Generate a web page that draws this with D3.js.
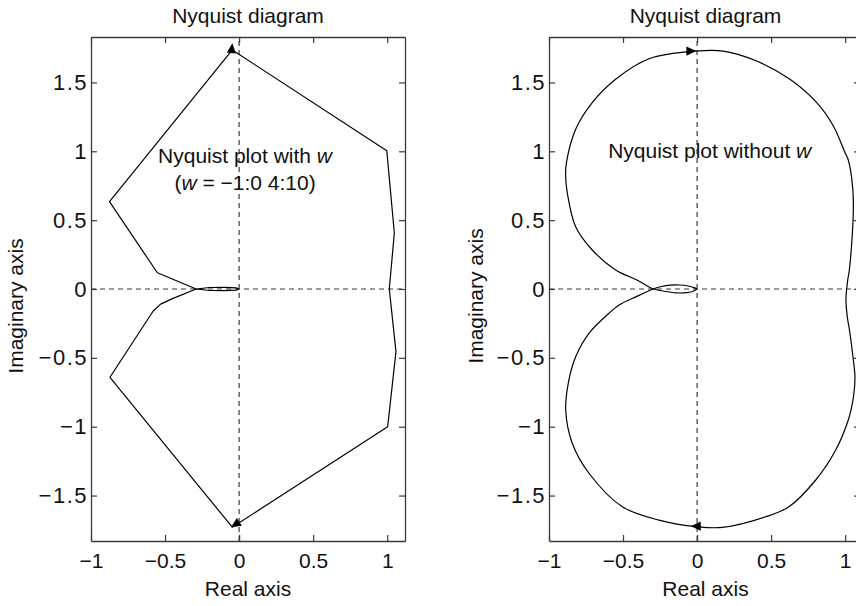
<!DOCTYPE html>
<html>
<head>
<meta charset="utf-8">
<script src="https://cdn.jsdelivr.net/npm/d3@7"></script>
<style>
  body { margin: 0; background: #fff; }
  svg { display: block; }
  text { font-family: "Liberation Sans", Arial, Helvetica, sans-serif; fill: #111; }
</style>
</head>
<body>
<svg id="chart" width="856" height="606"></svg>
<script>
// ---------- data ----------
const titles = ["Nyquist diagram", "Nyquist diagram"];
const xLabel = "Real axis";
const yLabel = "Imaginary axis";
const xTicks = [-1, -0.5, 0, 0.5, 1];
const yTicks = [-1.5, -1, -0.5, 0, 0.5, 1, 1.5];
const xDomainLeft = [-1, 1.12];
const xDomainRight = [-1, 1.1];
const yDomain = [-1.83, 1.83];

// Left panel: Nyquist plot with w (w = -1:0 4:10), straight segments
const leftNegRe = [0, -0.02, -0.1, -0.2, -0.29, -0.552, -0.875, -0.046, 0.997, 1.048, 1.014];
const leftNegIm = [0, -0.008, -0.012, -0.011, 0, 0.118, 0.634, 1.736, 1.004, 0.407, 0];
const leftPosRe = [1.014, 1.059, 1.003, -0.046, -0.872, -0.58, -0.53, -0.45, -0.29, -0.2, -0.1, -0.02, 0];
const leftPosIm = [0, -0.455, -1.0, -1.73, -0.641, -0.16, -0.11, -0.07, 0, 0.011, 0.012, 0.008, 0];

// Right panel: Nyquist plot without w, smooth curve
const rightNegRe = [0, -0.03, -0.09, -0.14, -0.21, -0.296, -0.4, -0.55, -0.708, -0.82, -0.876, -0.888, -0.882, -0.82, -0.708, -0.55, -0.325, -0.01, 0.177, 0.402, 0.627, 0.808, 0.92, 0.999, 1.021, 1.05, 1.055, 1.044, 1.028, 1.017, 1.01];
const rightNegIm = [0, -0.018, -0.028, -0.028, -0.018, 0, 0.062, 0.138, 0.283, 0.452, 0.695, 0.83, 0.92, 1.16, 1.353, 1.523, 1.672, 1.728, 1.728, 1.656, 1.523, 1.353, 1.184, 0.99, 0.937, 0.743, 0.574, 0.332, 0.138, 0.065, 0];
const rightPosRe = [1.01, 1.005, 1.014, 1.032, 1.055, 1.066, 1.059, 1.044, 1.021, 0.936, 0.801, 0.62, 0.463, 0.17, 0, -0.257, -0.505, -0.73, -0.843, -0.887, -0.87, -0.82, -0.73, -0.595, -0.527, -0.4, -0.296, -0.24, -0.18, -0.12, -0.06, -0.02, 0];
const rightPosIm = [0, -0.08, -0.2, -0.32, -0.516, -0.637, -0.757, -0.855, -0.951, -1.169, -1.387, -1.581, -1.654, -1.731, -1.726, -1.678, -1.581, -1.338, -1.12, -0.88, -0.685, -0.492, -0.322, -0.176, -0.116, -0.05, 0, 0.018, 0.028, 0.029, 0.022, 0.01, 0];

// direction arrows: tip position (Re, Im) and heading (degrees, screen)
const leftArrowRe = [-0.046, -0.055];
const leftArrowIm = [1.785, -1.73];
const leftArrowDir = [-85, 147];
const rightArrowRe = [-0.005, -0.043];
const rightArrowIm = [1.728, -1.722];
const rightArrowDir = [0, 180];

const annoLeft = ["Nyquist plot with ", "w", "(", "w", " = \u22121:0 4:10)"];
const annoRight = ["Nyquist plot without ", "w"];

// ---------- drawing ----------
const svg = d3.select("#chart");
svg.append("rect").attr("width", 856).attr("height", 606).attr("fill", "#fff");

const FS = 21;
const fmt = d => (d < 0 ? "\u2212" : "") + Math.abs(d);

function panel(cfg) {
  const x = d3.scaleLinear().domain(cfg.xDomain).range([cfg.left, cfg.right]);
  const y = d3.scaleLinear().domain(yDomain).range([cfg.bottom, cfg.top]);
  const g = svg.append("g");

  // zero lines
  g.append("line")
    .attr("x1", x(cfg.xDomain[0])).attr("x2", x(cfg.xDomain[1]))
    .attr("y1", y(0)).attr("y2", y(0))
    .attr("stroke", "#3a3a3a").attr("stroke-width", 1.2).attr("stroke-dasharray", "5,4");
  g.append("line")
    .attr("x1", x(0)).attr("x2", x(0))
    .attr("y1", y(yDomain[0])).attr("y2", y(yDomain[1]))
    .attr("stroke", "#3a3a3a").attr("stroke-width", 1.2).attr("stroke-dasharray", "5,4");

  const line = d3.line().x(d => x(d[0])).y(d => y(d[1])).curve(cfg.curve);
  cfg.series.forEach(s => {
    g.append("path").datum(d3.zip(s[0], s[1]))
      .attr("d", line).attr("fill", "none")
      .attr("stroke", "#000").attr("stroke-width", 1.2).attr("stroke-linejoin", "round");
  });

  // arrows
  cfg.arrows[0].forEach((re, i) => {
    const im = cfg.arrows[1][i], ang = cfg.arrows[2][i];
    g.append("path")
      .attr("d", "M0,0 L-10,-4.6 L-10,4.6 Z")
      .attr("fill", "#000")
      .attr("transform", `translate(${x(re)},${y(im)}) rotate(${ang})`);
  });

  // axes (ticks inside on all four sides)
  const styleAxis = sel => {
    sel.select(".domain").attr("stroke", "#3a3a3a").attr("stroke-width", 1.3);
    sel.selectAll(".tick line").attr("stroke", "#3a3a3a").attr("stroke-width", 1.2);
    sel.selectAll(".tick text").attr("font-size", FS).attr("fill", "#111")
      .attr("font-family", '"Liberation Sans", Arial, Helvetica, sans-serif');
  };
  g.append("g").attr("transform", `translate(0,${cfg.bottom})`)
    .call(d3.axisBottom(x).tickValues(xTicks).tickFormat(fmt).tickSize(-6).tickSizeOuter(0).tickPadding(12))
    .call(styleAxis);
  g.append("g").attr("transform", `translate(0,${cfg.top})`)
    .call(d3.axisTop(x).tickValues(xTicks).tickFormat("").tickSize(-6).tickSizeOuter(0))
    .call(styleAxis);
  g.append("g").attr("transform", `translate(${cfg.left},0)`)
    .call(d3.axisLeft(y).tickValues(yTicks).tickFormat(fmt).tickSize(-6).tickSizeOuter(0).tickPadding(3))
    .call(styleAxis)
    .call(sel => sel.selectAll(".tick text").attr("font-size", 22).attr("letter-spacing", 1.5));
  g.append("g").attr("transform", `translate(${cfg.right},0)`)
    .call(d3.axisRight(y).tickValues(yTicks).tickFormat("").tickSize(-6).tickSizeOuter(0))
    .call(styleAxis);

  // titles and labels
  const cx = (cfg.left + cfg.right) / 2;
  g.append("text").attr("x", cfg.titleX).attr("y", 23).attr("text-anchor", "middle")
    .attr("font-size", FS).text(cfg.title);
  g.append("text").attr("x", cfg.titleX).attr("y", 596).attr("text-anchor", "middle")
    .attr("font-size", FS).text(xLabel);
  g.append("text").attr("transform", `translate(${cfg.ylabX},${cfg.ylabY}) rotate(-90)`)
    .attr("text-anchor", "middle").attr("font-size", FS).text(yLabel);

  // annotation
  cfg.anno.forEach(a => {
    const t = g.append("text").attr("x", x(a.re)).attr("y", y(a.im))
      .attr("text-anchor", "middle").attr("font-size", FS);
    a.parts.forEach((p, i) => {
      t.append("tspan").text(p).attr("font-style", a.italic.includes(i) ? "italic" : "normal");
    });
  });
}

panel({
  left: 91, right: 405, top: 37, bottom: 541, xDomain: xDomainLeft,
  title: titles[0], titleX: 248, ylabX: 23, ylabY: 306,
  curve: d3.curveLinear,
  series: [[leftNegRe, leftNegIm], [leftPosRe, leftPosIm]],
  arrows: [leftArrowRe, leftArrowIm, leftArrowDir],
  anno: [
    { re: 0.04, im: 0.913, parts: annoLeft.slice(0, 2), italic: [1] },
    { re: 0.04, im: 0.719, parts: annoLeft.slice(2), italic: [1] }
  ]
});

panel({
  left: 549, right: 860, top: 37, bottom: 541, xDomain: xDomainRight,
  title: titles[1], titleX: 705.5, ylabX: 483, ylabY: 296,
  curve: d3.curveCatmullRom.alpha(0.5),
  series: [[rightNegRe, rightNegIm], [rightPosRe, rightPosIm]],
  arrows: [rightArrowRe, rightArrowIm, rightArrowDir],
  anno: [
    { re: 0.085, im: 0.951, parts: annoRight, italic: [1] }
  ]
});
</script>
</body>
</html>
